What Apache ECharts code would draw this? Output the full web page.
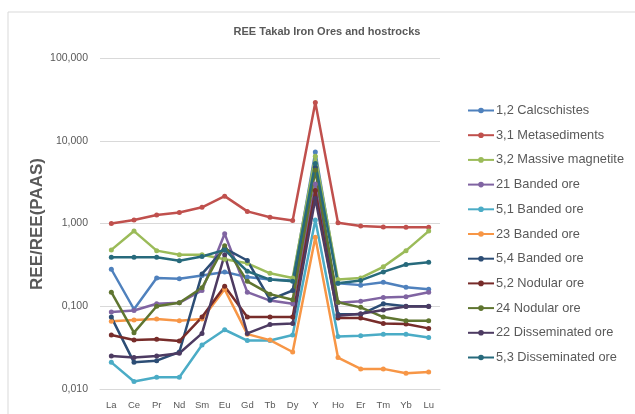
<!DOCTYPE html>
<html>
<head>
<meta charset="utf-8">
<script src="https://cdn.jsdelivr.net/npm/echarts@6/dist/echarts.min.js"></script>
<style>
html,body{margin:0;padding:0;background:#fff;}
#c{width:635px;height:414px;}
</style>
</head>
<body>
<div id="c"></div>
<script>
var categories = ['La','Ce','Pr','Nd','Sm','Eu','Gd','Tb','Dy','Y','Ho','Er','Tm','Yb','Lu'];

var calcschistes_1_2      = [0.28, 0.092, 0.22, 0.215, 0.235, 0.26, 0.225, 0.21, 0.205, 7.3, 0.19, 0.18, 0.195, 0.17, 0.16];
var metasediments_3_1     = [1.0, 1.1, 1.27, 1.36, 1.57, 2.14, 1.4, 1.19, 1.09, 29, 1.02, 0.93, 0.91, 0.9, 0.9];
var massiveMagnetite_3_2  = [0.48, 0.81, 0.47, 0.42, 0.42, 0.37, 0.33, 0.25, 0.22, 6.5, 0.21, 0.22, 0.30, 0.47, 0.81];
var bandedOre_21          = [0.085, 0.089, 0.107, 0.11, 0.155, 0.75, 0.148, 0.117, 0.107, 3.0, 0.11, 0.115, 0.128, 0.13, 0.148];
var bandedOre_5_1         = [0.021, 0.0123, 0.0139, 0.0139, 0.034, 0.052, 0.0385, 0.0385, 0.045, 1.1, 0.043, 0.044, 0.046, 0.046, 0.042];
var bandedOre_23          = [0.066, 0.068, 0.07, 0.067, 0.07, 0.16, 0.046, 0.039, 0.028, 0.68, 0.024, 0.0175, 0.0175, 0.0155, 0.016];
var bandedOre_5_4         = [0.074, 0.021, 0.022, 0.028, 0.246, 0.5, 0.357, 0.12, 0.155, 4.8, 0.08, 0.08, 0.107, 0.1, 0.1];
var nodularOre_5_2        = [0.045, 0.039, 0.040, 0.038, 0.074, 0.175, 0.074, 0.074, 0.074, 2.5, 0.072, 0.072, 0.062, 0.061, 0.054];
var nodularOre_24         = [0.148, 0.048, 0.1, 0.11, 0.167, 0.54, 0.2, 0.14, 0.12, 4.4, 0.112, 0.097, 0.074, 0.067, 0.067];
var disseminatedOre_22    = [0.025, 0.024, 0.025, 0.027, 0.047, 0.42, 0.047, 0.06, 0.062, 2.0, 0.077, 0.081, 0.09, 0.099, 0.099];
var disseminatedOre_5_3   = [0.39, 0.39, 0.39, 0.355, 0.40, 0.48, 0.265, 0.21, 0.20, 5.3, 0.19, 0.205, 0.26, 0.32, 0.34];

var seriesNames = ['1,2 Calcschistes','3,1 Metasediments','3,2 Massive magnetite','21 Banded ore','5,1 Banded ore','23 Banded ore','5,4 Banded ore','5,2 Nodular ore','24 Nodular ore','22 Disseminated ore','5,3 Disseminated ore'];
var seriesValues = [calcschistes_1_2, metasediments_3_1, massiveMagnetite_3_2, bandedOre_21, bandedOre_5_1, bandedOre_23, bandedOre_5_4, nodularOre_5_2, nodularOre_24, disseminatedOre_22, disseminatedOre_5_3];
var seriesColors = ['#4F81BD','#C0504D','#9BBB59','#8064A2','#4BACC6','#F79646','#2C4D75','#772C2A','#5F7530','#4D3B62','#276A7C'];

var titleText = 'REE Takab Iron Ores and hostrocks';
var yAxisTitle = 'REE/REE(PAAS)';

var chart = echarts.init(document.getElementById('c'), null, {renderer:'canvas'});

var series = seriesNames.map(function(n, i){
  return {
    name: n, type: 'line', data: seriesValues[i],
    symbol: 'circle', symbolSize: 5,
    lineStyle: {width: 2.5, color: seriesColors[i]},
    itemStyle: {color: seriesColors[i]},
    emphasis: {disabled: true},
    animation: false
  };
});

chart.setOption({
  animation: false,
  textStyle: {fontFamily: 'Liberation Sans'},
  grid: {left: 100, right: 195, top: 58, bottom: 25},
  legend: {
    orient: 'vertical', left: 462, top: 99,
    itemWidth: 26, itemHeight: 7, itemGap: 11.7,
    textStyle: {color: '#595959', fontSize: 12.8, lineHeight: 13, fontFamily: 'Liberation Sans', padding: [0,0,0,-3]},
    data: seriesNames
  },
  xAxis: {
    type: 'category', data: categories, boundaryGap: true,
    axisLine: {lineStyle: {color: '#d9d9d9', width: 1}},
    axisTick: {show: false},
    axisLabel: {color: '#595959', fontSize: 9.5, margin: 11}
  },
  yAxis: {
    type: 'log', logBase: 10, min: 0.01, max: 100,
    axisLine: {show: false}, axisTick: {show: false},
    splitLine: {lineStyle: {color: '#d9d9d9', width: 1}},
    axisLabel: {color: '#595959', fontSize: 10.5, margin: 12,
      formatter: function(v){ return v.toFixed(3).replace('.', ','); }}
  },
  graphic: [
    {type: 'rect', shape: {x: 8, y: 12, width: 700, height: 500}, style: {fill: 'none', stroke: '#d9d9d9', lineWidth: 1}, silent: true},
    {type: 'text', x: 327, y: 32, style: {text: titleText, fill: '#595959', font: 'bold 11px "Liberation Sans"', textAlign: 'center', textVerticalAlign: 'middle'}},
    {type: 'text', x: 37, y: 224, rotation: Math.PI/2, style: {text: yAxisTitle, fill: '#595959', font: 'bold 17px "Liberation Sans"', textAlign: 'center', textVerticalAlign: 'middle'}}
  ],
  series: series
});
</script>
</body>
</html>
